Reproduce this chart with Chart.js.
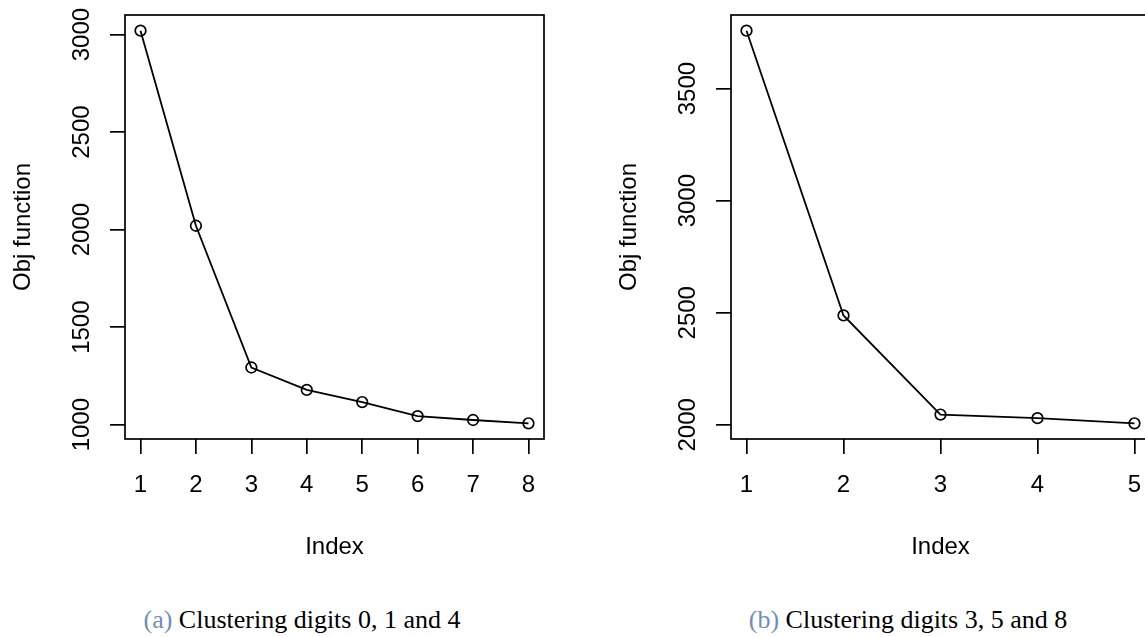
<!DOCTYPE html>
<html>
<head>
<meta charset="utf-8">
<script src="https://cdn.jsdelivr.net/npm/chart.js@4.4.1/dist/chart.umd.min.js"></script>
<style>
html, body { margin: 0; padding: 0; background: #fff; width: 1145px; height: 637px; overflow: hidden; }
.panel { position: absolute; top: 0; height: 580px; }
#p1 { left: 0; width: 572px; }
#p2 { left: 572px; width: 600px; }
.cap { position: absolute; top: 605px; line-height: 30px; font-family: "Liberation Serif", "Times New Roman", serif; font-size: 26px; color: #000; white-space: nowrap; transform: translateX(-50%); }
.cap span { color: #6f8fb5; }
</style>
</head>
<body>
<div class="panel" id="p1"><canvas id="c1"></canvas></div>
<div class="panel" id="p2"><canvas id="c2"></canvas></div>
<div class="cap" style="left:302px"><span>(a)</span> Clustering digits 0, 1 and 4</div>
<div class="cap" style="left:908px"><span>(b)</span> Clustering digits 3, 5 and 8</div>
<script>
// panel (a): digits 0, 1, 4
var idxA = [1, 2, 3, 4, 5, 6, 7, 8];
var objA = [3020, 2020, 1293, 1178, 1116, 1044, 1024, 1007];
var yTicksA = [1000, 1500, 2000, 2500, 3000];

// panel (b): digits 3, 5, 8
var idxB = [1, 2, 3, 4, 5];
var objB = [3758, 2488, 2046, 2030, 2007];
var yTicksB = [2000, 2500, 3000, 3500];

var FONT = '"Liberation Sans", Arial, sans-serif';

// box, rotated y labels and axis titles like base R
var rStyle = {
  id: 'rStyle',
  afterDraw: function(chart) {
    var ctx = chart.ctx, a = chart.chartArea, ys = chart.scales.y;
    ctx.save();
    ctx.strokeStyle = '#000';
    ctx.lineWidth = 1.7;
    ctx.strokeRect(a.left, a.top, a.right - a.left, a.bottom - a.top);
    ctx.fillStyle = '#000';
    ctx.font = '24px ' + FONT;
    ctx.textAlign = 'center';
    ctx.textBaseline = 'alphabetic';
    ys.ticks.forEach(function(t) {
      var py = ys.getPixelForValue(t.value);
      ctx.save();
      ctx.translate(a.left - 36, py);
      ctx.rotate(-Math.PI / 2);
      ctx.fillText(String(t.value), 0, 0);
      ctx.restore();
    });
    ctx.save();
    ctx.translate(a.left - 95, (a.top + a.bottom) / 2);
    ctx.rotate(-Math.PI / 2);
    ctx.fillText('Obj function', 0, 0);
    ctx.restore();
    ctx.fillText('Index', (a.left + a.right) / 2, a.bottom + 115);
    ctx.restore();
  }
};

function makeChart(id, xs, ys, yTicks, yAxisW, padRight) {
  var xmin = Math.min.apply(null, xs), xmax = Math.max.apply(null, xs);
  var ymin = Math.min.apply(null, ys), ymax = Math.max.apply(null, ys);
  var dx = (xmax - xmin) * 0.04, dy = (ymax - ymin) * 0.04;
  var pts = xs.map(function(x, i) { return { x: x, y: ys[i] }; });
  return new Chart(document.getElementById(id), {
    type: 'line',
    data: {
      datasets: [{
        data: pts,
        borderColor: '#000',
        borderWidth: 1.8,
        pointRadius: 5.3,
        pointBorderWidth: 1.7,
        pointBorderColor: '#000',
        pointBackgroundColor: 'rgba(0,0,0,0)',
        tension: 0
      }]
    },
    options: {
      responsive: true,
      maintainAspectRatio: false,
      animation: false,
      events: [],
      layout: { autoPadding: false, padding: { left: 0, top: 15, right: padRight, bottom: 0 } },
      plugins: { legend: { display: false }, tooltip: { enabled: false } },
      scales: {
        x: {
          type: 'linear',
          min: xmin - dx,
          max: xmax + dx,
          afterBuildTicks: function(s) { s.ticks = xs.map(function(v) { return { value: v }; }); },
          afterFit: function(s) { s.height = 141; },
          border: { display: false },
          grid: { drawOnChartArea: false, drawTicks: true, tickLength: 15, color: '#000', lineWidth: 1.7 },
          ticks: { color: '#000', padding: 17, font: { family: FONT, size: 24 }, callback: function(v) { return String(v); } }
        },
        y: {
          type: 'linear',
          min: ymin - dy,
          max: ymax + dy,
          afterBuildTicks: function(s) { s.ticks = yTicks.map(function(v) { return { value: v }; }); },
          afterFit: function(s) { s.width = yAxisW; },
          border: { display: false },
          grid: { drawOnChartArea: false, drawTicks: true, tickLength: 15, color: '#000', lineWidth: 1.7 },
          ticks: { display: false }
        }
      }
    },
    plugins: [rStyle]
  });
}

makeChart('c1', idxA, objA, yTicksA, 125, 28);
makeChart('c2', idxB, objB, yTicksB, 159, 22);
</script>
</body>
</html>
